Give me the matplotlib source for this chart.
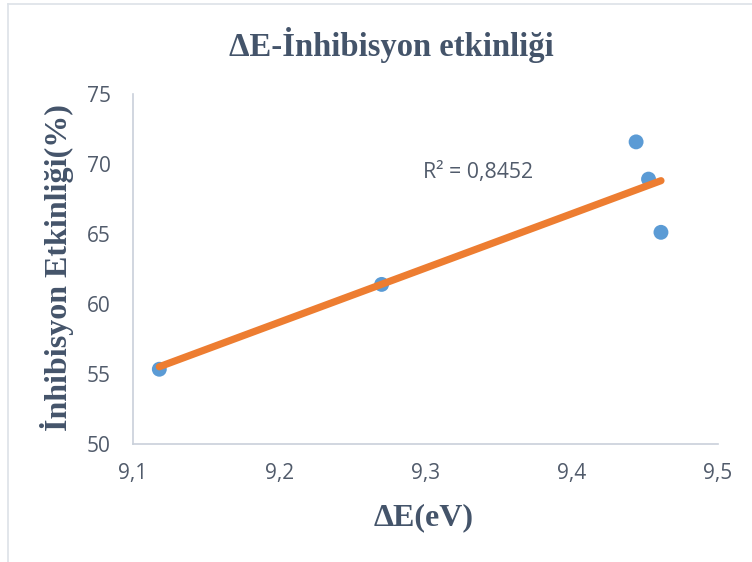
import numpy as np
import matplotlib
matplotlib.use("Agg")
import matplotlib.pyplot as plt
from matplotlib.lines import Line2D

# Energy gap (eV) and inhibition efficiency (%)
delta_e = [9.118, 9.270, 9.444, 9.4525, 9.461]
efficiency = [55.34, 61.40, 71.58, 68.92, 65.12]
r_squared_label = "R² = 0,8452"

x_ticks = [9.1, 9.2, 9.3, 9.4, 9.5]
x_tick_labels = ["9,1", "9,2", "9,3", "9,4", "9,5"]
y_ticks = [50, 55, 60, 65, 70, 75]

title_color = "#44546A"
tick_color = "#515B6B"
point_color = "#5B9BD5"
trend_color = "#ED7D31"
axis_color = "#C9D0DA"

W, H = 752, 562
fig = plt.figure(figsize=(W / 100, H / 100), dpi=100)
fig.patch.set_facecolor("white")

# Chart-area border (top and left edges visible)
fig.add_artist(Line2D([8 / W, 1.0], [1 - 4 / H, 1 - 4 / H],
                      transform=fig.transFigure, color="#DDE2E8", lw=1.2))
fig.add_artist(Line2D([8 / W, 8 / W], [0.0, 1 - 4 / H],
                      transform=fig.transFigure, color="#DDE2E8", lw=1.2))

ax_l, ax_r, ax_b, ax_t = 133, 718, 444, 94
ax = fig.add_axes([ax_l / W, 1 - ax_b / H, (ax_r - ax_l) / W, (ax_b - ax_t) / H])

ax.scatter(delta_e, efficiency, s=115, color=point_color, zorder=2,
           edgecolors="none")

# Linear trend line across the data range
slope, intercept = np.polyfit(delta_e, efficiency, 1)
xs = np.array([min(delta_e), max(delta_e)])
ax.plot(xs, slope * xs + intercept, color=trend_color, lw=5.2,
        solid_capstyle="round", zorder=3)

ax.text(9.2985, 69.4, r_squared_label, ha="left", va="center",
        fontsize=15.3, color=tick_color, family="Open Sans")

ax.set_xlim(9.1, 9.5)
ax.set_ylim(50, 75)
ax.set_xticks(x_ticks)
ax.set_xticklabels(x_tick_labels)
ax.set_yticks(y_ticks)

for lab in ax.get_xticklabels() + ax.get_yticklabels():
    lab.set_family("Open Sans")
    lab.set_fontsize(15)
    lab.set_color(tick_color)
ax.tick_params(axis="both", length=0)
ax.tick_params(axis="x", pad=14)
ax.tick_params(axis="y", pad=16)

for side in ("top", "right"):
    ax.spines[side].set_visible(False)
for side in ("left", "bottom"):
    ax.spines[side].set_color(axis_color)
    ax.spines[side].set_linewidth(1.2)

serif_bold = dict(family="Liberation Serif", weight="bold", color=title_color)

fig.text(391 / W, 1 - 45 / H, "ΔE-İnhibisyon etkinliği", ha="center",
         va="center", fontsize=23.5, **serif_bold)

ax.set_xlabel("ΔE(eV)", fontsize=23, va="center", **serif_bold)
ax.xaxis.set_label_coords((424 - ax_l) / (ax_r - ax_l), (ax_b - 518) / (ax_b - ax_t))

ax.set_ylabel("İnhibisyon Etkinliği(%)", fontsize=23, va="center", **serif_bold)
ax.yaxis.set_label_coords((57 - ax_l) / (ax_r - ax_l), (ax_b - 268) / (ax_b - ax_t))

fig.savefig("out.png", dpi=100, facecolor="white")
